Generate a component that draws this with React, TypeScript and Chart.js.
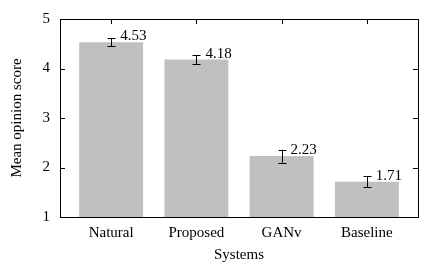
import React, { useEffect, useRef } from "react";
import { Chart, registerables } from "chart.js";

Chart.register(...registerables);

const categories = ["Natural", "Proposed", "GANv", "Baseline"];
const scores = [4.53, 4.18, 2.23, 1.71];
const errors = [0.08, 0.09, 0.13, 0.11];
const yTicks = [1, 2, 3, 4, 5];

const FONT = "'Liberation Serif', 'DejaVu Serif', serif";

const framePlugin = {
  id: "frame",
  afterDatasetsDraw(chart: any) {
    const { ctx, chartArea: a, scales } = chart;
    const xs = scales.x;
    const ys = scales.y;
    ctx.save();
    // error bars
    ctx.strokeStyle = "#000";
    ctx.lineWidth = 1;
    scores.forEach((v, i) => {
      const x = Math.round(xs.getPixelForValue(i)) + 0.5;
      const y1 = ys.getPixelForValue(v + errors[i]);
      const y2 = ys.getPixelForValue(v - errors[i]);
      ctx.beginPath();
      ctx.moveTo(x, y1);
      ctx.lineTo(x, y2);
      ctx.moveTo(x - 4, Math.round(y1) + 0.5);
      ctx.lineTo(x + 4, Math.round(y1) + 0.5);
      ctx.moveTo(x - 4, Math.round(y2) + 0.5);
      ctx.lineTo(x + 4, Math.round(y2) + 0.5);
      ctx.stroke();
    });
    // value labels
    ctx.fillStyle = "#000";
    ctx.font = "15px " + FONT;
    ctx.textAlign = "left";
    ctx.textBaseline = "alphabetic";
    scores.forEach((v, i) => {
      const x = xs.getPixelForValue(i) + 9;
      const y = ys.getPixelForValue(v) - 2;
      ctx.fillText(v.toFixed(2), x, y);
    });
    // inner ticks
    ctx.beginPath();
    yTicks.slice(1, -1).forEach((t) => {
      const y = Math.round(ys.getPixelForValue(t)) + 0.5;
      ctx.moveTo(a.left, y);
      ctx.lineTo(a.left + 5, y);
      ctx.moveTo(a.right, y);
      ctx.lineTo(a.right - 5, y);
    });
    categories.forEach((_, i) => {
      const x = Math.round(xs.getPixelForValue(i)) + 0.5;
      ctx.moveTo(x, a.top);
      ctx.lineTo(x, a.top + 5);
    });
    ctx.stroke();
    // frame
    ctx.strokeRect(
      Math.round(a.left) + 0.5,
      Math.round(a.top) + 0.5,
      Math.round(a.right - a.left),
      Math.round(a.bottom - a.top)
    );
    ctx.restore();
  },
};

export default function App() {
  const ref = useRef<HTMLCanvasElement>(null);
  useEffect(() => {
    document.body.style.margin = "0";
    if (!ref.current) return;
    const chart = new Chart(ref.current, {
      type: "bar",
      data: {
        datasets: [
          {
            data: scores.map((v, i) => ({ x: i, y: v })),
            backgroundColor: "#c0c0c0",
            borderWidth: 0,
            barPercentage: 0.75,
            categoryPercentage: 1,
          },
        ],
      },
      options: {
        animation: false,
        responsive: false,
        maintainAspectRatio: false,
        layout: { padding: { top: 14, right: 18, left: 0, bottom: 0 } },
        plugins: { legend: { display: false }, tooltip: { enabled: false } },
        scales: {
          x: {
            type: "linear",
            min: -0.6,
            max: 3.6,
            offset: false,
            grid: { display: false, drawTicks: false, offset: false },
            border: { display: false },
            afterBuildTicks: (s: any) => {
              s.ticks = categories.map((_, i) => ({ value: i }));
            },
            afterFit: (s: any) => {
              s.height = 55;
            },
            ticks: {
              autoSkip: false,
              maxRotation: 0,
              padding: 7,
              color: "#000",
              font: { family: FONT, size: 15 },
              callback: (v: any) => categories[v] ?? "",
            },
            title: {
              display: true,
              text: "Systems",
              color: "#000",
              font: { family: FONT, size: 15 },
              padding: { top: 0, bottom: 8 },
            },
          },
          y: {
            min: 1,
            max: 5,
            grid: { display: false, drawTicks: false },
            border: { display: false },
            afterFit: (s: any) => {
              s.width = 60;
            },
            ticks: {
              stepSize: 1,
              padding: 10,
              color: "#000",
              font: { family: FONT, size: 15 },
            },
            title: {
              display: true,
              text: "Mean opinion score",
              color: "#000",
              font: { family: FONT, size: 15 },
              padding: { top: 8, bottom: 0 },
            },
          },
        },
      },
      plugins: [framePlugin],
    });
    return () => chart.destroy();
  }, []);
  return (
    <div style={{ width: 436, height: 272 }}>
      <canvas ref={ref} width={436} height={272} style={{ display: "block" }} />
    </div>
  );
}
